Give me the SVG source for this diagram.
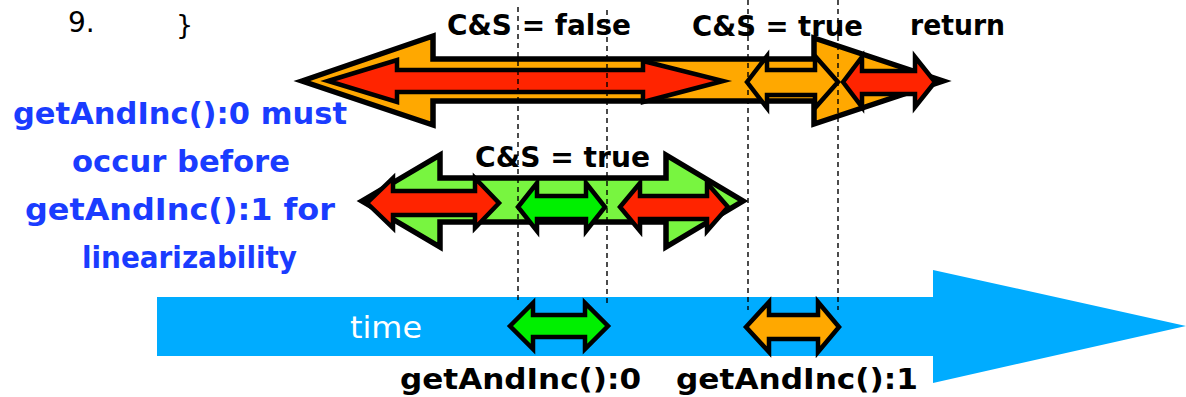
<svg xmlns="http://www.w3.org/2000/svg" width="1186" height="397" viewBox="0 0 1186 397">
  <style>
    .arrow { stroke: #000; stroke-linejoin: miter; stroke-miterlimit: 10; }
    .big { stroke-width: 5.5; }
    .small { stroke-width: 4.5; }
    .orange { fill: #FFA800; }
    .red { fill: #FF2400; }
    .lgreen { fill: #78F540; }
    .green { fill: #00F000; }
    .dash { stroke: #000; stroke-width: 1.4; stroke-dasharray: 5 4; fill: none; }
    .lbl { font-family: "DejaVu Sans", "Liberation Sans", sans-serif; font-weight: bold; fill: #000; }
    .note { font-family: "DejaVu Sans", "Liberation Sans", sans-serif; font-weight: bold; fill: #1A3CFF; font-size: 30px; }
  </style>

  <!-- code fragment -->
  <g id="code">
    <text x="68" y="32" font-family="DejaVu Sans, sans-serif" font-size="28" fill="#000">9.</text>
    <text x="176" y="34" font-family="DejaVu Sans, sans-serif" font-size="27" fill="#000">}</text>
  </g>

  <!-- time axis -->
  <g id="time-axis">
    <polygon points="157,297 933,297 933,270 1186,326 933,383 933,356 157,356" fill="#00ACFF"/>
    <text x="350" y="338" font-family="DejaVu Sans, sans-serif" font-size="30" fill="#fff" textLength="72" lengthAdjust="spacingAndGlyphs">time</text>
  </g>

  <!-- thread A: one call, C&S fails then succeeds -->
  <g id="thread-a">
    <polygon class="arrow big orange" points="302,81 433,36 433,59 814,59 814,38 943,81 814,124 814,101 433,101 433,125"/>
    <polygon class="arrow small red" points="328,81 397,60 397,70 643,70 643,61 723,81 643,102 643,92 397,92 397,102"/>
    <polygon class="arrow small orange" points="747,82 767,56 767,70 815,70 815,56 838,82 815,108 815,95 767,95 767,108"/>
    <polygon class="arrow small red" points="843,82 862,57 862,71 915,71 915,57 935,82 915,107 915,94 862,94 862,107"/>
  </g>

  <!-- thread B: one call, C&S succeeds -->
  <g id="thread-b">
    <polygon class="arrow big lgreen" points="362,201 440,155 440,178 666,178 666,155 743,201 666,247 666,222 440,222 440,247"/>
    <polygon class="arrow small red" points="367,203 393,178 393,191 475,191 475,178 499,203 475,228 475,215 393,215 393,228"/>
    <polygon class="arrow small green" points="518,207 537,183 537,196 586,196 586,183 605,207 586,231 586,219 537,219 537,231"/>
    <polygon class="arrow small red" points="620,207 640,183 640,196 707,196 707,183 728,207 707,231 707,219 640,219 640,231"/>
  </g>

  <!-- linearization points on the time axis -->
  <g id="lin-0">
    <polygon class="arrow small green" points="510,326 533,303 533,315 585,315 585,303 608,326 585,349 585,337 533,337 533,349"/>
    <text class="lbl" x="400" y="389" font-size="29" textLength="241" lengthAdjust="spacingAndGlyphs">getAndInc():0</text>
  </g>
  <g id="lin-1">
    <polygon class="arrow small orange" points="746,327 769,302 769,315 818,315 818,302 839,327 818,352 818,339 769,339 769,352"/>
    <text class="lbl" x="676" y="389" font-size="29" textLength="242" lengthAdjust="spacingAndGlyphs">getAndInc():1</text>
  </g>

  <!-- interval guides -->
  <g id="connectors">
    <line class="dash" x1="518" y1="7" x2="518" y2="300"/>
    <line class="dash" x1="607" y1="10" x2="607" y2="303"/>
    <line class="dash" x1="748" y1="0" x2="748" y2="310"/>
    <line class="dash" x1="838" y1="0" x2="838" y2="310"/>
  </g>

  <!-- step labels -->
  <g id="labels">
    <text class="lbl" x="447" y="35" font-size="28" textLength="184" lengthAdjust="spacingAndGlyphs">C&amp;S = false</text>
    <text class="lbl" x="692" y="36" font-size="28" textLength="171" lengthAdjust="spacingAndGlyphs">C&amp;S = true</text>
    <text class="lbl" x="910" y="35" font-size="28" textLength="95" lengthAdjust="spacingAndGlyphs">return</text>
    <text class="lbl" x="475" y="167" font-size="28" textLength="175" lengthAdjust="spacingAndGlyphs">C&amp;S = true</text>
  </g>

  <!-- explanation -->
  <g id="note">
    <text class="note" x="13" y="124" textLength="334" lengthAdjust="spacingAndGlyphs">getAndInc():0 must</text>
    <text class="note" x="72" y="172" textLength="218" lengthAdjust="spacingAndGlyphs">occur before</text>
    <text class="note" x="25" y="220" textLength="310" lengthAdjust="spacingAndGlyphs">getAndInc():1 for</text>
    <text class="note" x="82" y="268" textLength="215" lengthAdjust="spacingAndGlyphs">linearizability</text>
  </g>
</svg>
